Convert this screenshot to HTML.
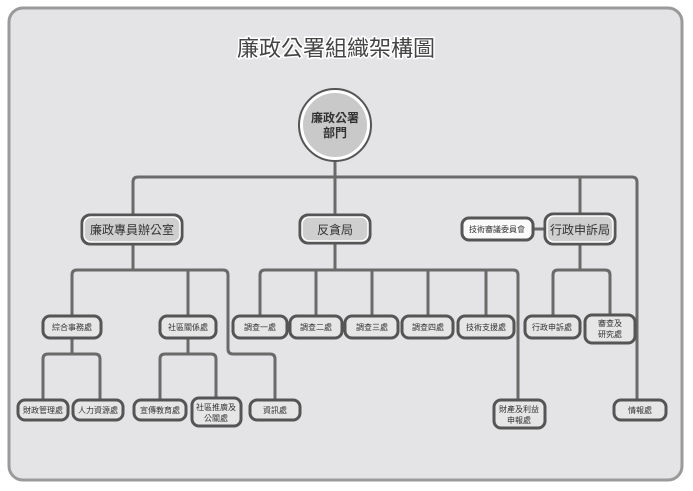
<!DOCTYPE html>
<html><head><meta charset="utf-8"><style>
html,body{margin:0;padding:0;background:#fff;}
svg{display:block;}
text{font-family:"Liberation Sans","Noto Sans CJK TC",sans-serif;fill:#333;text-anchor:middle;}
.l{fill:none;stroke:#6a6a6a;stroke-width:3;stroke-linejoin:round;}
.b{fill:#e6e6e6;stroke:#555;stroke-width:3;}
.bi{fill:none;stroke:#fff;stroke-width:1.5;}
.m{fill:#cfcfcf;}
</style></head><body>
<svg width="693" height="491" viewBox="0 0 693 491">
<rect x="9" y="8" width="673" height="472" rx="14" fill="#e4e4e6" stroke="#9a9a9a" stroke-width="3"/>
<text x="336" y="56" font-size="22" style="fill:#444;stroke:#fff;stroke-width:3;paint-order:stroke">廉政公署組織架構圖</text>
<path class="l" d="M335 160V177 M133 216V182Q133 177 138 177H632Q637 177 637 182V400"/>
<path class="l" d="M335 177V216 M580 177V214"/>
<path class="l" d="M533 229H545"/>
<path class="l" d="M133 244V270 M72 316V275Q72 270 77 270H223Q228 270 228 275V349Q228 354 233 354H270Q275 354 275 359V400 M188 270V316"/>
<path class="l" d="M72 338V354 M43 400V359Q43 354 48 354H95Q100 354 100 359V400"/>
<path class="l" d="M188 338V354 M160 400V359Q160 354 165 354H211Q216 354 216 359V398"/>
<path class="l" d="M335 243V270 M260 316V275Q260 270 265 270H513Q518 270 518 275V400 M316 270V316 M372 270V316 M428 270V316 M486 270V316"/>
<path class="l" d="M580 244V270 M553 316V275Q553 270 558 270H605Q610 270 610 275V315"/>
<circle cx="335" cy="125" r="36" fill="#fff" stroke="#555" stroke-width="2"/>
<circle cx="335" cy="125" r="32" fill="#c9c9c9"/>
<text x="335" y="122" font-size="12" font-weight="bold">廉政公署</text>
<text x="335" y="137" font-size="12" font-weight="bold">部門</text>
<g font-size="8">
<rect class="b m" x="82" y="215" width="100" height="29" rx="8"/><rect class="bi" x="84" y="217" width="96" height="25" rx="7"/><text x="132" y="234" font-size="12">廉政專員辦公室</text>
<rect class="b m" x="300" y="215" width="70" height="28" rx="8"/><rect class="bi" x="302" y="217" width="66" height="24" rx="7"/><text x="335" y="234" font-size="12">反貪局</text>
<rect class="b m" x="545" y="214" width="70" height="30" rx="8"/><rect class="bi" x="547" y="216" width="66" height="26" rx="7"/><text x="580" y="234" font-size="12">行政申訴局</text>
<rect class="b" style="fill:#fafafa" x="462" y="218" width="71" height="22" rx="7"/><text x="497" y="232">技術審議委員會</text>
<rect class="b" x="43" y="316" width="58" height="22" rx="7"/><text x="72" y="330">綜合事務處</text>
<rect class="b" x="160" y="316" width="56" height="22" rx="7"/><text x="188" y="330">社區關係處</text>
<rect class="b" x="233" y="316" width="54" height="22" rx="7"/><text x="260" y="330">調查一處</text>
<rect class="b" x="290" y="316" width="52" height="22" rx="7"/><text x="316" y="330">調查二處</text>
<rect class="b" x="345" y="316" width="53" height="22" rx="7"/><text x="372" y="330">調查三處</text>
<rect class="b" x="402" y="316" width="51" height="22" rx="7"/><text x="428" y="330">調查四處</text>
<rect class="b" x="458" y="316" width="56" height="22" rx="7"/><text x="486" y="330">技術支援處</text>
<rect class="b" x="525" y="316" width="55" height="22" rx="7"/><text x="552" y="330">行政申訴處</text>
<rect class="b" x="585" y="315" width="50" height="28" rx="7"/><text x="610" y="326">審查及</text><text x="610" y="337">研究處</text>
<rect class="b" x="18" y="400" width="50" height="20" rx="7"/><text x="43" y="413">財政管理處</text>
<rect class="b" x="73" y="400" width="50" height="20" rx="7"/><text x="98" y="413">人力資源處</text>
<rect class="b" x="134" y="400" width="52" height="20" rx="7"/><text x="160" y="413">宣傳教育處</text>
<rect class="b" x="192" y="398" width="49" height="28" rx="7"/><text x="216" y="410">社區推廣及</text><text x="216" y="421">公關處</text>
<rect class="b" x="250" y="400" width="50" height="20" rx="7"/><text x="275" y="413">資訊處</text>
<rect class="b" x="494" y="400" width="51" height="28" rx="7"/><text x="519" y="412">財產及利益</text><text x="519" y="423">申報處</text>
<rect class="b" x="614" y="400" width="52" height="20" rx="7"/><text x="640" y="413">情報處</text>
</g>
</svg>
</body></html>
